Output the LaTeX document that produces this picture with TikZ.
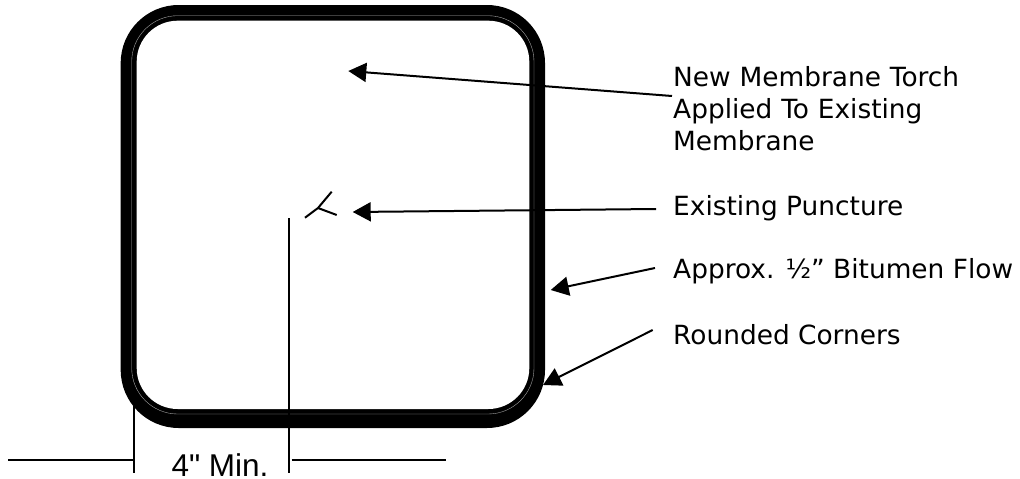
\documentclass[tikz,border=0pt]{standalone}
\usepackage{fontspec}
\setmainfont{DejaVu Sans}
\newfontfamily\dimfont{Liberation Sans}
\usetikzlibrary{arrows.meta}
\tikzset{
  px/.style={x=1pt,y=-1pt},
  leader/.style={line width=2pt,-{Triangle[length=18pt,width=19pt]}},
  plainline/.style={line width=2pt},
  label/.style={anchor=base west,inner sep=0pt,font=\fontsize{26.4pt}{31.7pt}\selectfont,align=left},
}
\begin{document}
\begin{tikzpicture}[px]
\useasboundingbox (0,0) rectangle (1020,479);
\fill[white] (0,0) rectangle (1020,479);
% membrane frame
\fill[black,rounded corners=58pt] (120.7,5) rectangle (545,428);
\fill[white,rounded corners=41pt] (136.7,20.7) rectangle (529.3,409);
\draw[white!70!black,line width=0.35pt,rounded corners=46pt] (131.7,15.7) rectangle (534,414);
% puncture
\coordinate (pj) at (318,208);
\coordinate (pa) at (331.7,191.7);
\coordinate (pb) at (305,217.7);
\coordinate (pc) at (336.7,215);
\draw[plainline] (pa) -- (pj) -- (pb);
\draw[plainline] (pj) -- (pc);
% labels
\node[label,text width=340pt,anchor=north west] (lnew) at (673,64.5) {\strut New Membrane Torch\\Applied To Existing\\Membrane};
\node[label] (lpunct) at (673,215) {Existing Puncture};
\node[label] (lflow) at (673,278.3) {Approx. ½” Bitumen Flow};
\node[label] (lround) at (673,344) {Rounded Corners};
\node[anchor=base,inner sep=0pt,font=\dimfont\fontsize{31.5pt}{31.5pt}\selectfont] (ldim) at (220,476) {4" Min.};
% leaders
\coordinate (s1) at (672,96); \coordinate (t1) at (348.3,71);
\coordinate (s2) at (656,209); \coordinate (t2) at (352.7,212);
\coordinate (s3) at (655,268); \coordinate (t3) at (550.7,290);
\coordinate (s4) at (652.7,330); \coordinate (t4) at (543,385);
\draw[leader] (s1) -- (t1);
\draw[leader] (s2) -- (t2);
\draw[leader] (s3) -- (t3);
\draw[leader] (s4) -- (t4);
% dimension
\coordinate (d1t) at (134,405); \coordinate (d1b) at (134,473);
\coordinate (d2t) at (288.5,218); \coordinate (d2b) at (288.5,473);
\coordinate (h1a) at (8.3,460); \coordinate (h1b) at (134,460);
\coordinate (h2a) at (291.7,460); \coordinate (h2b) at (446,460);
\draw[plainline] (d1t) -- (d1b);
\draw[plainline] (d2t) -- (d2b);
\draw[plainline] (h1a) -- (h1b);
\draw[plainline] (h2a) -- (h2b);
\end{tikzpicture}
\end{document}
